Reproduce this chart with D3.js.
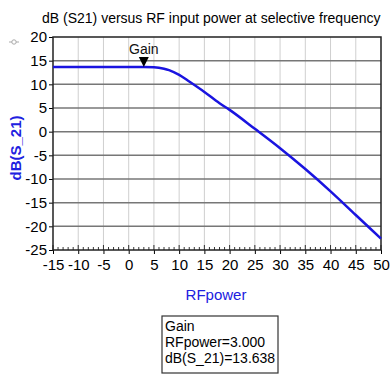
<!DOCTYPE html>
<html>
<head>
<meta charset="utf-8">
<script src="https://cdn.jsdelivr.net/npm/d3@7"></script>
<style>
    body { margin: 0; background: #fff; }
    svg { display: block; font-family: 'Liberation Sans', Arial, sans-serif; }
</style>
</head>
<body>
<svg id="chart" width="392" height="376"></svg>
<script>
// values
const rfPower = [-15, -10, -5, 0, 3, 5, 7, 8, 10, 12, 15, 18, 20, 25, 30, 35, 40, 45, 50];
const gainDb = [13.64, 13.64, 13.64, 13.64, 13.638, 13.6, 13.3, 13.0, 12.0, 10.6, 8.4, 6.0, 4.6, 0.6, -3.5, -7.9, -12.6, -17.6, -22.6];
const xTicks = [-15, -10, -5, 0, 5, 10, 15, 20, 25, 30, 35, 40, 45, 50];
const yTicks = [20, 15, 10, 5, 0, -5, -10, -15, -20, -25];
const markerName = 'Gain';
const markerX = 3.000;
const markerY = 13.638;

const size = { left: 53, right: 11, top: 37, bottom: 126 };
const svg = d3.select('#chart');
const width = +svg.attr('width') - size.left - size.right;
const height = +svg.attr('height') - size.top - size.bottom;

const x = d3.scaleLinear().domain([-15, 50]).range([0, width]);
const y = d3.scaleLinear().domain([-25, 20]).range([height, 0]);

svg.append('text')
    .attr('x', 42).attr('y', 23)
    .attr('font-size', 14)
    .attr('fill', '#000')
    .text('dB (S21) versus RF input power at selective frequency');

// little legend glyph at top left
const glyph = svg.append('g').attr('transform', 'translate(14, 42)').attr('stroke', '#aaa');
glyph.append('line').attr('x1', -5).attr('x2', 5).attr('y1', 0).attr('y2', 0);
glyph.append('circle').attr('r', 2.2).attr('fill', '#fff');

const g = svg.append('g').attr('transform', `translate(${size.left}, ${size.top})`);

// grid
g.append('g').selectAll('line').data(xTicks.slice(1, -1)).enter().append('line')
    .attr('x1', d => x(d)).attr('x2', d => x(d))
    .attr('y1', 0).attr('y2', height)
    .attr('stroke', '#cfcfcf').attr('stroke-width', 1);
g.append('g').selectAll('line').data(yTicks.slice(1, -1)).enter().append('line')
    .attr('x1', 0).attr('x2', width)
    .attr('y1', d => y(d)).attr('y2', d => y(d))
    .attr('stroke', '#777').attr('stroke-width', 1.5);

// minor ticks along the bottom
g.append('g').selectAll('line').data(d3.range(-15, 51, 1)).enter().append('line')
    .attr('x1', d => x(d)).attr('x2', d => x(d))
    .attr('y1', height).attr('y2', d => height - (d % 5 === 0 ? 5 : 3))
    .attr('stroke', '#333').attr('stroke-width', 1);

// axes
const yAxis = g.append('g')
    .call(d3.axisLeft(y).tickValues(yTicks).tickSize(4).tickSizeOuter(0).tickFormat(d => String(d)));
yAxis.select('.domain').remove();
yAxis.selectAll('text').attr('font-size', 15).attr('fill', '#000').attr('dx', 1).attr('font-family', "'Liberation Sans', Arial, sans-serif");

const xAxis = g.append('g')
    .attr('transform', `translate(0, ${height})`)
    .call(d3.axisBottom(x).tickValues(xTicks).tickSize(4).tickSizeOuter(0).tickFormat(d => String(d)));
xAxis.select('.domain').remove();
xAxis.selectAll('text').attr('font-size', 15).attr('fill', '#000').attr('dy', '0.85em').attr('font-family', "'Liberation Sans', Arial, sans-serif");

g.append('rect')
    .attr('width', width).attr('height', height)
    .attr('fill', 'none').attr('stroke', '#222').attr('stroke-width', 1.5);

// curve
g.append('path')
    .datum(rfPower.map((d, i) => [d, gainDb[i]]))
    .attr('fill', 'none')
    .attr('stroke', '#1a14e0')
    .attr('stroke-width', 2.5)
    .attr('d', d3.line().x(d => x(d[0])).y(d => y(d[1])).curve(d3.curveMonotoneX));

// marker
const mx = x(markerX), my = y(markerY);
g.append('path')
    .attr('d', `M${mx - 5},${my - 10}L${mx + 5},${my - 10}L${mx},${my}Z`)
    .attr('fill', '#000');
g.append('text')
    .attr('x', mx).attr('y', my - 13)
    .attr('text-anchor', 'middle')
    .attr('font-size', 14).attr('fill', '#111')
    .text(markerName);

// axis labels
svg.append('text')
    .attr('transform', 'translate(21, 148) rotate(-90)')
    .attr('text-anchor', 'middle')
    .attr('font-size', 15).attr('font-weight', 'bold').attr('fill', '#2020e0')
    .text('dB(S_21)');
svg.append('text')
    .attr('x', 216).attr('y', 300)
    .attr('text-anchor', 'middle')
    .attr('font-size', 15).attr('fill', '#2020e0')
    .text('RFpower');

// marker readout box
const box = svg.append('g').attr('transform', 'translate(162, 316)');
box.append('rect').attr('width', 116).attr('height', 57)
    .attr('fill', '#fff').attr('stroke', '#333').attr('stroke-width', 1.2);
const lines = [markerName, `RFpower=${markerX.toFixed(3)}`, `dB(S_21)=${markerY.toFixed(3)}`];
box.selectAll('text').data(lines).enter().append('text')
    .attr('x', 3).attr('y', (d, i) => 15 + i * 16)
    .attr('font-size', 14).attr('fill', '#000')
    .text(d => d);
</script>
</body>
</html>
